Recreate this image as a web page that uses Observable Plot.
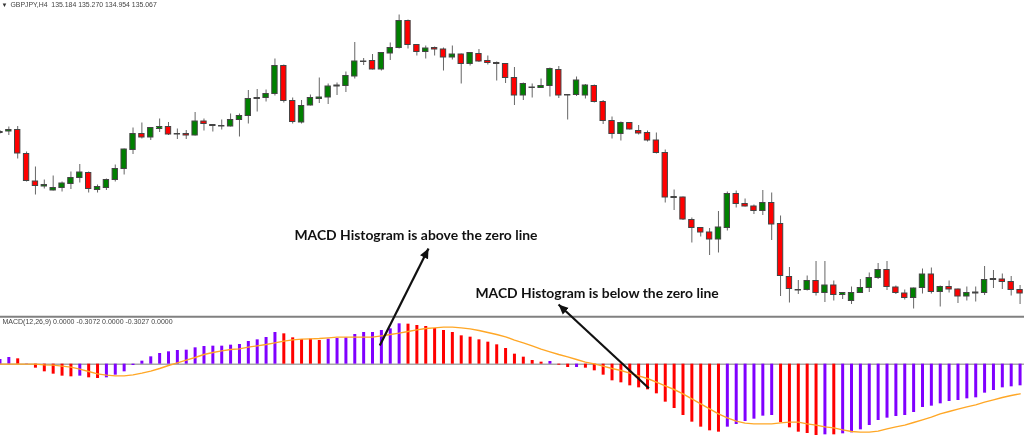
<!DOCTYPE html>
<html>
<head>
<meta charset="utf-8">
<script src="https://cdn.jsdelivr.net/npm/d3@7"></script>
<script src="https://cdn.jsdelivr.net/npm/@observablehq/plot@0.6"></script>
<style>
  html, body { margin: 0; padding: 0; background: #fff; overflow: hidden; }
  #chart { position: relative; width: 1024px; height: 439px; }
  #chart svg { position: absolute; left: 0; background: transparent; filter: blur(0.3px); }
</style>
</head>
<body>
<div id="chart"></div>
<script>
const opens = [
138.35,138.38,138.41,137.93,137.38,137.28,137.20,137.25,137.33,137.45,
137.55,137.21,137.25,137.41,137.63,138.01,138.33,138.26,138.43,138.47,
138.33,138.33,138.30,138.58,138.51,138.48,138.48,138.61,138.69,139.03,
139.05,139.13,139.69,138.99,138.56,138.90,139.03,139.06,139.28,139.29,
139.48,139.77,139.79,139.62,139.94,140.05,140.59,140.11,139.97,140.05,
140.02,139.86,139.92,139.73,139.93,139.79,139.75,139.73,139.45,139.10,
139.25,139.25,139.29,139.61,139.10,139.11,139.10,139.29,138.97,138.59,
138.33,138.55,138.39,138.35,138.20,137.95,137.05,137.06,136.61,136.45,
136.36,136.22,136.45,137.13,136.93,136.88,136.79,136.95,136.53,135.47,
135.20,135.21,135.39,135.15,135.30,135.11,134.99,135.15,135.25,135.45,
135.61,135.26,135.14,135.05,135.25,135.52,135.17,135.27,135.22,135.08,
135.14,135.15,135.41,135.42,135.37,135.21];
const closes = [
138.37,138.41,137.94,137.39,137.29,137.31,137.25,137.34,137.45,137.56,
137.23,137.27,137.41,137.63,138.02,138.33,138.26,138.45,138.47,138.32,
138.32,138.30,138.58,138.53,138.49,138.49,138.61,138.69,139.03,139.05,
139.13,139.69,138.99,138.57,138.89,139.05,139.06,139.28,139.30,139.49,
139.78,139.78,139.62,139.95,140.05,140.59,140.11,139.97,140.04,140.02,
139.86,139.92,139.73,139.95,139.78,139.75,139.73,139.45,139.10,139.33,
139.26,139.29,139.63,139.10,139.11,139.40,139.30,138.97,138.59,138.33,
138.55,138.42,138.34,138.20,137.95,137.06,137.07,136.62,136.45,136.36,
136.22,136.46,137.13,136.93,136.88,136.79,136.95,136.52,135.49,135.23,
135.21,135.39,135.15,135.30,135.11,135.15,135.15,135.25,135.45,135.61,
135.27,135.15,135.05,135.24,135.52,135.17,135.27,135.22,135.08,135.15,
135.16,135.41,135.43,135.37,135.21,135.14];
const highs = [
138.40,138.47,138.48,137.97,137.67,137.41,137.49,137.37,137.57,137.72,
137.57,137.31,137.43,137.71,138.03,138.45,138.55,138.45,138.63,138.56,
138.43,138.40,138.76,138.63,138.52,138.61,138.73,138.73,139.20,139.22,
139.21,139.83,139.71,139.05,139.00,139.11,139.45,139.33,139.35,139.57,
140.16,139.84,139.92,139.95,140.15,140.71,140.61,140.12,140.09,140.07,
140.05,140.09,139.93,139.96,140.02,139.89,139.77,139.73,139.66,139.35,
139.33,139.43,139.65,139.68,139.12,139.47,139.32,139.31,139.00,138.67,
138.57,138.56,138.50,138.39,138.35,138.01,137.21,137.07,136.65,136.46,
136.44,136.78,137.17,137.19,137.03,136.91,137.20,137.15,136.69,135.66,
135.40,135.49,135.78,135.78,135.39,135.16,135.27,135.42,135.55,135.74,
135.78,135.29,135.21,135.25,135.63,135.65,135.29,135.39,135.23,135.27,
135.27,135.68,135.60,135.53,135.48,135.30];
const lows = [
138.33,138.30,137.83,137.37,137.11,137.23,137.19,137.17,137.22,137.35,
137.15,137.15,137.20,137.37,137.51,137.92,138.23,138.20,138.36,138.30,
138.22,138.22,138.29,138.39,138.37,138.41,138.47,138.27,138.53,138.77,
138.97,139.09,138.95,138.53,138.53,138.89,138.94,138.92,139.10,139.16,
139.43,139.70,139.61,139.59,139.80,140.03,140.03,139.89,139.83,139.89,
139.59,139.81,139.33,139.69,139.76,139.71,139.39,139.34,138.90,139.00,
139.05,139.24,139.07,139.04,138.61,139.08,139.03,138.95,138.52,138.23,
138.19,138.41,138.31,138.17,137.93,136.95,136.80,136.60,136.15,136.27,
135.90,135.95,136.39,136.85,136.87,136.72,136.70,136.20,135.08,134.95,
135.12,135.19,135.09,134.96,134.99,135.02,134.92,135.14,135.16,135.42,
135.20,135.12,135.01,134.83,135.13,135.13,134.87,135.15,134.94,134.99,
134.97,135.10,135.24,135.22,135.09,134.92];
const histogram = [
.070,.100,.080,.005,-.060,-.115,-.150,-.180,-.190,-.180,
-.205,-.215,-.205,-.165,-.115,-.020,.045,.110,.160,.185,
.205,.210,.245,.265,.270,.270,.285,.295,.340,.365,
.400,.475,.455,.395,.370,.375,.355,.375,.385,.395,
.445,.475,.475,.505,.530,.605,.600,.580,.565,.535,
.505,.475,.425,.405,.365,.330,.290,.235,.150,.105,
.055,.030,.040,-.015,-.050,-.050,-.060,-.100,-.165,-.250,
-.280,-.325,-.355,-.385,-.445,-.570,-.665,-.770,-.870,-.945,
-1.000,-1.020,-.945,-.905,-.860,-.825,-.780,-.770,-.875,-.955,
-1.020,-1.040,-1.070,-1.060,-1.060,-1.045,-1.030,-.985,-.920,-.845,
-.810,-.785,-.770,-.725,-.650,-.630,-.595,-.560,-.545,-.520,
-.505,-.435,-.395,-.355,-.340,-.325];
const signal = [
0,0,0,0,0,-.010,-.015,-.030,-.045,-.075,
-.110,-.145,-.165,-.175,-.175,-.160,-.135,-.105,-.065,-.020,
.020,.060,.100,.145,.175,.200,.220,.230,.255,.275,
.295,.320,.345,.365,.375,.380,.385,.395,.405,.405,
.405,.405,.405,.425,.445,.465,.490,.515,.535,.545,
.555,.555,.545,.530,.505,.475,.445,.410,.360,.320,
.275,.225,.185,.145,.110,.070,.030,.005,-.030,-.065,
-.095,-.135,-.175,-.215,-.270,-.325,-.380,-.445,-.520,-.595,
-.670,-.745,-.805,-.855,-.885,-.895,-.895,-.895,-.880,-.870,
-.870,-.895,-.915,-.940,-.955,-.985,-1.010,-1.020,-1.020,-1.005,
-.970,-.940,-.915,-.875,-.835,-.795,-.745,-.710,-.675,-.640,
-.610,-.570,-.535,-.500,-.470,-.445];
const histState = "PPRPRRRRRPRRPPPPPPPPPPPPPPPPPPPPRRRRRPPPPPPPPPRRRRRRRRRRRRRRRRPRRPRRRRRRRRRRRRRRRRPPPPPPRRRRRPRPPPPPPPPPPPPPPPPPPPPP";

const priceHeader = "GBPJPY,H4  135.184 135.270 134.954 135.067";
const macdHeader = "MACD(12,26,9) 0.0000 -0.3072 0.0000 -0.3027 0.0000";
const notes = [
  {text: "MACD Histogram is above the zero line", bar: 33.2, price: 136.30},
  {text: "MACD Histogram is below the zero line", bar: 53.6, price: 135.14}
];
const arrows = [
  {bar1: 42.82, price1: 134.10, bar2: 48.31, price2: 136.04},
  {bar1: 73.15, price1: 133.246, bar2: 62.97, price2: 134.92}
];
const panelDivider = 134.674;

const candles = opens.map((o, i) => ({
  bar: i, open: o, close: closes[i], high: highs[i], low: lows[i],
  top: Math.max(o, closes[i]), bottom: Math.min(o, closes[i]),
  dir: closes[i] >= o ? "up" : "down"
}));
const macdRows = histogram.map((v, i) => ({bar: i, hist: v, signal: signal[i], state: histState[i]}));

const xOpts = {type: "linear", domain: [0.061, 115.5], range: [0, 1024], axis: null};
const margins = {marginTop: 0, marginRight: 0, marginBottom: 0, marginLeft: 0};

// Filled triangular arrowhead for the annotation links
function filledHead(color, context) {
  const NS = "http://www.w3.org/2000/svg";
  const marker = context.document.createElementNS(NS, "marker");
  marker.setAttribute("viewBox", "-6 -4 6 8");
  marker.setAttribute("markerWidth", 4.5);
  marker.setAttribute("markerHeight", 6);
  marker.setAttribute("orient", "auto");
  const path = context.document.createElementNS(NS, "path");
  path.setAttribute("d", "M0,0L-6,-2.7L-6,2.7Z");
  path.setAttribute("fill", color);
  path.setAttribute("stroke", "none");
  marker.appendChild(path);
  return marker;
}

const macdPlot = Plot.plot({
  width: 1024, height: 122, ...margins,
  x: xOpts,
  y: {domain: [0.70, -1.13], range: [0, 122], axis: null},
  color: {domain: ["P", "R"], range: ["#8000ff", "#ff0000"], legend: false},
  marks: [
    Plot.ruleY([0], {stroke: "#a8a8a8", strokeWidth: 1.5}),
    Plot.ruleX(macdRows, {x: "bar", y1: 0, y2: "hist", stroke: "state", strokeWidth: 3}),
    Plot.line(macdRows, {x: "bar", y: "signal", stroke: "#ffa726", strokeWidth: 1.4, curve: "linear"}),
    Plot.text([macdHeader], {frameAnchor: "top-left", dx: 2, dy: 2, lineAnchor: "top", textAnchor: "start", fontSize: 7, fontFamily: "Liberation Sans", fill: "#444"})
  ]
});
macdPlot.style.top = "317px";

const pricePlot = Plot.plot({
  width: 1024, height: 439, ...margins,
  x: xOpts,
  y: {domain: [141, 132.22], range: [0, 439], axis: null},
  color: {domain: ["up", "down"], range: ["#008000", "#ff0000"], legend: false},
  marks: [
    Plot.ruleY([panelDivider], {stroke: "#808080", strokeWidth: 2}),
    Plot.ruleX(candles, {x: "bar", y1: "low", y2: "high", stroke: "#666", strokeWidth: 1}),
    Plot.rect(candles, {
      x1: d => d.bar - 0.3, x2: d => d.bar + 0.3, y1: "bottom", y2: "top",
      fill: "dir", stroke: "#444", strokeWidth: 1
    }),
    Plot.text(["▼"], {frameAnchor: "top-left", dx: 1, dy: 2, lineAnchor: "top", textAnchor: "start", fontSize: 6, fill: "#333"}),
    Plot.text([priceHeader], {frameAnchor: "top-left", dx: 10, dy: 2, lineAnchor: "top", textAnchor: "start", fontSize: 6.9, fontFamily: "Liberation Sans", fill: "#444"}),
    Plot.link(arrows, {x1: "bar1", y1: "price1", x2: "bar2", y2: "price2", stroke: "#111", strokeWidth: 2.2, markerEnd: filledHead}),
    Plot.text(notes, {x: "bar", y: "price", text: "text", textAnchor: "start", fontFamily: "Lato", fontWeight: 700, fontSize: 13.9, fill: "#111"})
  ]
});
pricePlot.style.top = "0px";

const chart = document.getElementById("chart");
chart.append(macdPlot, pricePlot);
</script>
</body>
</html>
